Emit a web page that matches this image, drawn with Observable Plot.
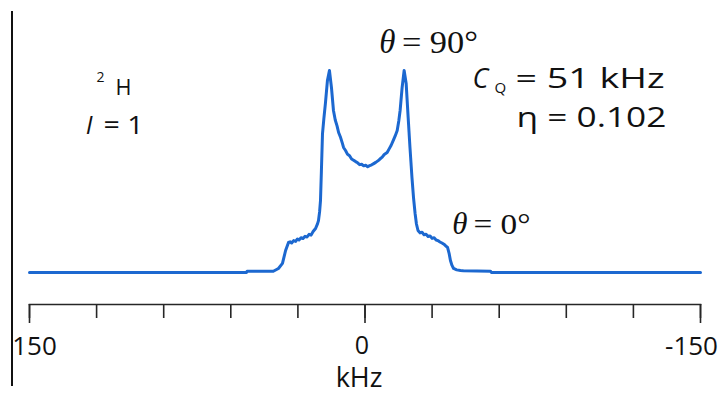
<!DOCTYPE html>
<html>
<head>
<meta charset="utf-8">
<script src="https://cdn.jsdelivr.net/npm/d3@7"></script>
<script src="https://cdn.jsdelivr.net/npm/@observablehq/plot@0.6"></script>
<style>
  html, body { margin: 0; padding: 0; background: #fff; }
  #wrap { position: relative; width: 720px; height: 393px; overflow: hidden; }
  #edge { position: absolute; left: 11px; top: 11px; width: 1.5px; height: 375px; background: #111; }
</style>
</head>
<body>
<div id="wrap"><div id="edge"></div></div>
<script>
// Frequency (kHz) and intensity (arbitrary units, peak = 100)
const kHz = [150, 53.0, 52.7, 41.0, 38.7, 36.9, 35.5, 34.2, 33.5, 32.8, 31.9, 31.0, 30.2, 29.5, 28.6, 27.7,
  26.8, 25.9, 25.0, 24.1, 23.2, 22.1, 21.2, 20.8, 20.3, 19.9, 19.5, 19.0, 18.4, 17.7, 16.8, 15.9,
  15.0, 14.1, 13.3, 12.5, 11.8, 10.9, 10.1, 9.6, 8.7, 7.8, 6.9, 6.0, 5.1, 4.2, 3.3, 2.4, 1.5, 0.6,
  -0.3, -1.2, -2.1, -3.0, -3.9, -4.8, -5.9, -6.8, -7.7, -8.6, -9.9, -10.8, -11.7, -12.6, -13.5, -14.4,
  -15.1, -15.7, -16.6, -17.5, -18.4, -19.3, -20.1, -21.0, -21.7, -22.4, -23.0, -23.7, -24.6, -25.5,
  -26.4, -27.3, -28.2, -29.1, -30.0, -30.9, -31.8, -32.6, -33.5, -34.4, -35.3, -36.2, -36.9, -37.6,
  -38.2, -38.9, -39.6, -41.0, -42.7, -44.0, -56.1, -56.5, -150];
const intensity = [0, 0, 0.6, 0.6, 2.0, 4.5, 10.9, 14.9, 15.2, 14.6, 15.8, 15.4, 16.6, 16.1, 17.2, 16.8,
  17.9, 17.6, 18.9, 18.5, 20.3, 21.8, 24.2, 25.7, 30.0, 35.6, 50.0, 68.8, 76.0, 83.7, 95.0, 100,
  91.6, 80.2, 75.5, 72.6, 69.3, 66.8, 63.9, 61.9, 60.4, 58.5, 57.8, 56.2, 55.6, 54.9, 54.3, 53.4, 53.6, 52.8,
  53.1, 52.4, 52.9, 53.3, 53.9, 54.5, 55.4, 56.3, 57.1, 58.4, 59.4, 61.2, 63.0, 65.3, 67.6, 70.3,
  75.0, 80.2, 91.6, 100, 93.6, 76.7, 62.0, 47.0, 37.0, 29.2, 24.0, 20.8, 19.6, 19.9,
  18.7, 18.9, 17.8, 18.1, 16.9, 17.2, 16.1, 15.8, 15.1, 14.6, 14.0, 13.1, 12.4, 9.5,
  5.9, 3.5, 2.0, 1.3, 1.0, 0.9, 0.64, 0, 0];
const tickValues = [150, 120, 90, 60, 30, 0, -30, -60, -90, -120, -150];
const tickLabels = ["150", "0", "-150"];
const axisTitle = "kHz";

const spectrum = kHz.map((x, i) => ({x, y: intensity[i]}));

const sans = "'Open Sans', sans-serif";
const serif = "'Liberation Serif', 'Times New Roman', serif";
function label(t, x, y, opts) {
  return Plot.text([t], {x: () => x, y: () => y, text: d => d, textAnchor: "start", lineAnchor: "bottom",
    fill: "#111", fontFamily: sans, ...opts});
}
const stretch = {"= 51 kHz": 149, "η = 0.102": 150, "= 90°": 76, "= 0°": 57, "= 1": 40, "H": 16};

const chart = Plot.plot({
  width: 720, height: 393,
  marginLeft: 29, marginRight: 20, marginTop: 0, marginBottom: 89,
  x: {domain: [150, -150], axis: null},
  y: {domain: [0, 100], range: [272, 70], axis: null},
  style: {background: "transparent"},
  marks: [
    Plot.frame({anchor: "bottom", stroke: "#262626", strokeWidth: 1.6}),
    Plot.axisX(tickValues, {tickSize: 14, tickFormat: () => "", label: null, stroke: "#262626", strokeWidth: 1.6}),
    Plot.axisX([150, 0, -150], {tickSize: 19, tickFormat: () => "", label: null, stroke: "#262626", strokeWidth: 1.6}),
    Plot.text([tickLabels[0]], {x: d => +d, frameAnchor: "bottom", dy: 50, dx: 5, lineAnchor: "bottom", fontSize: 26, fontFamily: sans, fill: "#111"}),
    Plot.text([tickLabels[1]], {x: d => +d, frameAnchor: "bottom", dy: 49, dx: -3, lineAnchor: "bottom", fontSize: 25, fontFamily: sans, fill: "#111"}),
    Plot.text([tickLabels[2]], {x: d => +d, frameAnchor: "bottom", dy: 50, dx: -9, lineAnchor: "bottom", fontSize: 26, fontFamily: sans, fill: "#111"}),
    Plot.text([axisTitle], {x: () => 0, frameAnchor: "bottom", dy: 82, dx: -6, lineAnchor: "bottom", fontSize: 27, fontFamily: sans, fill: "#111"}),
    Plot.line(spectrum, {x: "x", y: "y", stroke: "#1c68d0", strokeWidth: 3, strokeLinejoin: "round"}),
    // annotations
    label("θ", -13.64, 108.9, {textAnchor: "end", fontFamily: serif, fontStyle: "italic", fontSize: 33}),
    label("= 90°", -16.5, 108.9, {fontFamily: serif, fontSize: 32}),
    label("θ", -45.83, 19.3, {textAnchor: "end", fontFamily: serif, fontStyle: "italic", fontSize: 31}),
    label("= 0°", -48.5, 19.3, {fontFamily: serif, fontSize: 30}),
    label("C", -48.06, 91.1, {fontStyle: "italic", fontSize: 27}),
    label("Q", -57.9, 89.0, {fontSize: 15}),
    label("= 51 kHz", -67.3, 91.1, {fontSize: 27}),
    label("η = 0.102", -67.7, 71.8, {fontSize: 27}),
    label("2", 120.05, 94.1, {fontSize: 14}),
    label("H", 111.5, 88.1, {fontSize: 21}),
    label("I", 124.9, 68.8, {fontStyle: "italic", fontSize: 25}),
    label("= 1", 116.9, 68.8, {fontSize: 25})
  ]
});

chart.querySelectorAll("text").forEach(t => {
  const L = stretch[t.textContent];
  if (L) { t.setAttribute("textLength", L); t.setAttribute("lengthAdjust", "spacingAndGlyphs"); }
});
document.getElementById("wrap").appendChild(chart);
</script>
</body>
</html>
